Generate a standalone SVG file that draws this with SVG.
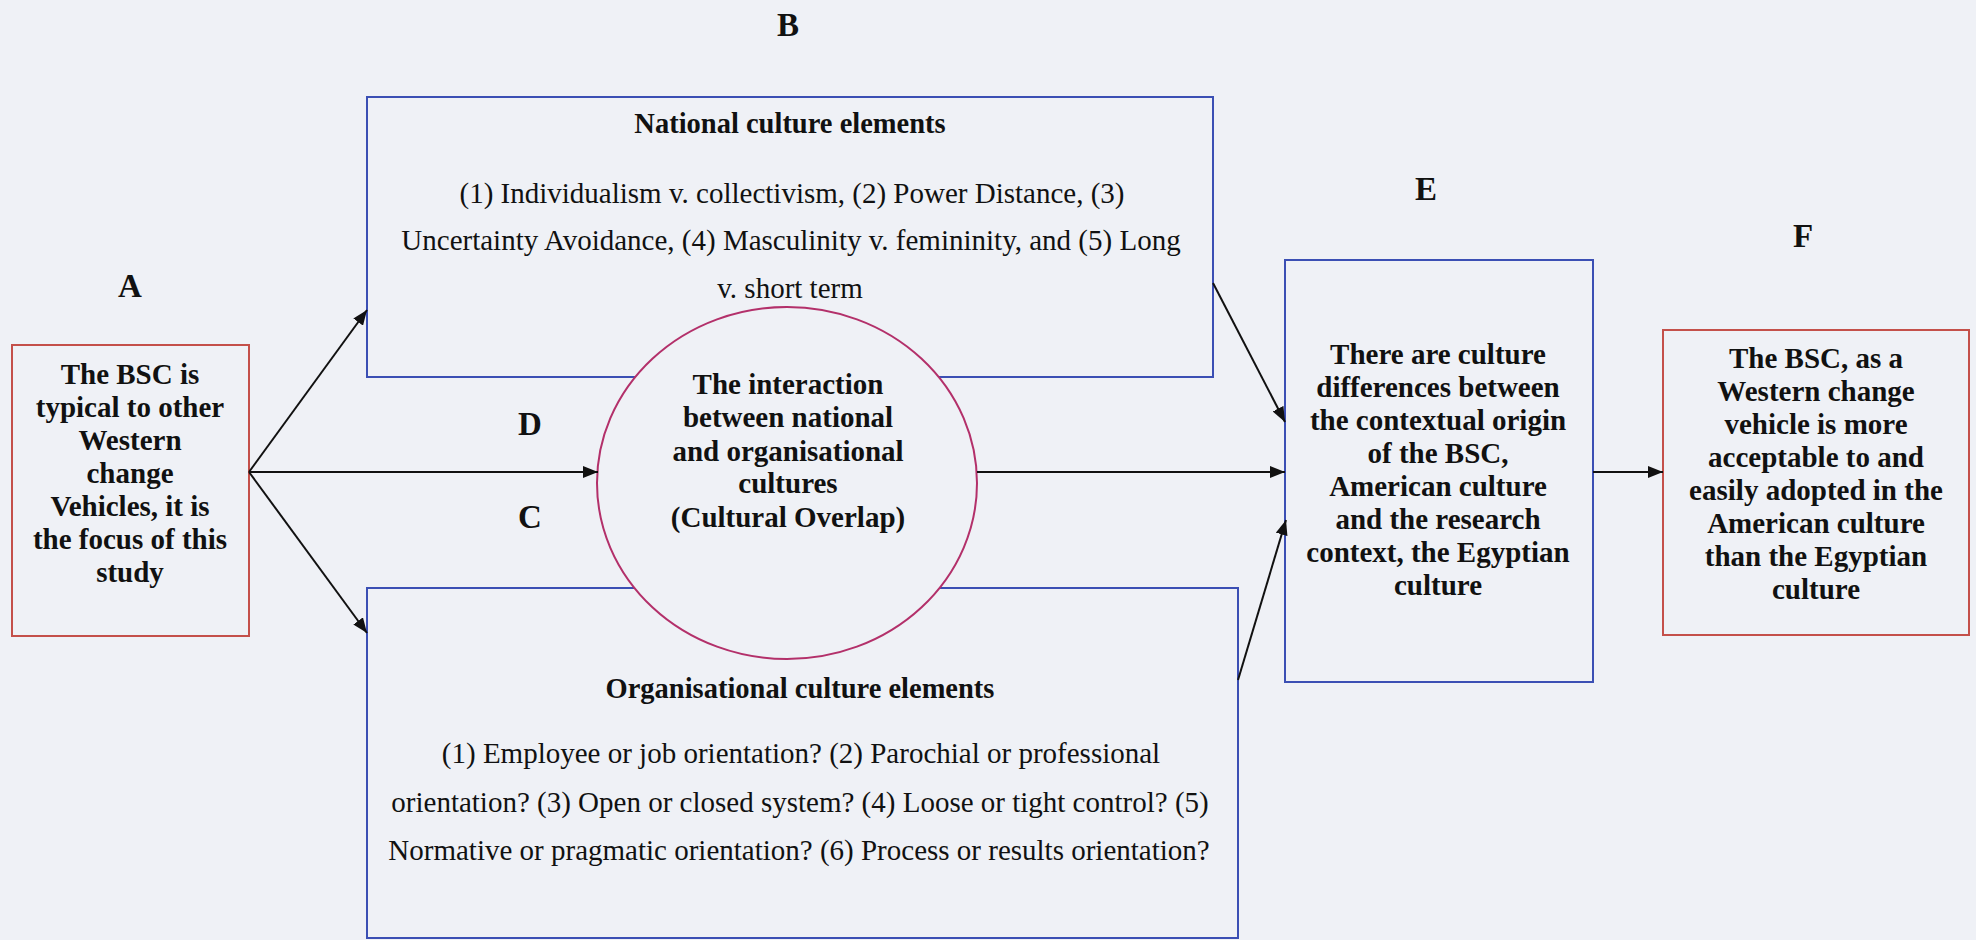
<svg xmlns="http://www.w3.org/2000/svg" width="1976" height="940" viewBox="0 0 1976 940">
  <defs>
    <marker id="arrow" markerUnits="userSpaceOnUse" markerWidth="16" markerHeight="12" refX="15" refY="6" orient="auto">
      <path d="M0,0 L15,6 L0,12 z" fill="#111"/>
    </marker>
    <style>
      .bg { fill: #eff1f6; }
      .blue { fill: #eff1f6; stroke: #3b4fb4; stroke-width: 2; }
      .red { fill: #eff1f6; stroke: #c4504a; stroke-width: 2; }
      .ring { fill: #eff1f6; stroke: #b3306a; stroke-width: 2; }
      .conn { stroke: #111; stroke-width: 2; fill: none; marker-end: url(#arrow); }
      text { font-family: "Liberation Serif", "Times New Roman", serif; fill: #111; text-anchor: middle; }
      .label { font-size: 33px; font-weight: bold; }
      .bold { font-size: 29px; font-weight: bold; }
      .title { font-size: 28.5px; font-weight: bold; }
      .body { font-size: 29px; }
    </style>
  </defs>

  <rect class="bg" x="0" y="0" width="1976" height="940"/>

  <!-- letter markers -->
  <g id="labels">
    <text class="label" x="130" y="297">A</text>
    <text class="label" x="788" y="36">B</text>
    <text class="label" x="530" y="528">C</text>
    <text class="label" x="530" y="435">D</text>
    <text class="label" x="1426" y="200">E</text>
    <text class="label" x="1803" y="247">F</text>
  </g>

  <!-- A: starting point -->
  <g id="node-a">
    <rect class="red" x="12" y="345" width="237" height="291"/>
    <text class="bold" x="130" y="384">The BSC is</text>
    <text class="bold" x="130" y="417">typical to other</text>
    <text class="bold" x="130" y="450">Western</text>
    <text class="bold" x="130" y="483">change</text>
    <text class="bold" x="130" y="516">Vehicles, it is</text>
    <text class="bold" x="130" y="549">the focus of this</text>
    <text class="bold" x="130" y="582">study</text>
  </g>

  <!-- B: national culture -->
  <g id="node-b">
    <rect class="blue" x="367" y="97" width="846" height="280"/>
    <text class="title" x="790" y="133">National culture elements</text>
    <text class="body" x="792" y="203">(1) Individualism v. collectivism, (2) Power Distance, (3)</text>
    <text class="body" x="791" y="250">Uncertainty Avoidance, (4) Masculinity v. femininity, and (5) Long</text>
    <text class="body" x="790" y="298">v. short term</text>
  </g>

  <!-- C: organisational culture -->
  <g id="node-c">
    <rect class="blue" x="367" y="588" width="871" height="350"/>
    <text class="title" x="800" y="698">Organisational culture elements</text>
    <text class="body" x="801" y="763">(1) Employee or job orientation? (2) Parochial or professional</text>
    <text class="body" x="800" y="812">orientation? (3) Open or closed system? (4) Loose or tight control? (5)</text>
    <text class="body" x="799" y="860">Normative or pragmatic orientation? (6) Process or results orientation?</text>
  </g>

  <!-- D: overlap of the two cultures -->
  <g id="node-d">
    <ellipse class="ring" cx="787" cy="483" rx="190" ry="176"/>
    <text class="bold" x="788" y="394">The interaction</text>
    <text class="bold" x="788" y="427">between national</text>
    <text class="bold" x="788" y="461">and organisational</text>
    <text class="bold" x="788" y="493">cultures</text>
    <text class="bold" x="788" y="527">(Cultural Overlap)</text>
  </g>

  <!-- E: cultural differences -->
  <g id="node-e">
    <rect class="blue" x="1285" y="260" width="308" height="422"/>
    <text class="bold" x="1438" y="364">There are culture</text>
    <text class="bold" x="1438" y="397">differences between</text>
    <text class="bold" x="1438" y="430">the contextual origin</text>
    <text class="bold" x="1438" y="463">of the BSC,</text>
    <text class="bold" x="1438" y="496">American culture</text>
    <text class="bold" x="1438" y="529">and the research</text>
    <text class="bold" x="1438" y="562">context, the Egyptian</text>
    <text class="bold" x="1438" y="595">culture</text>
  </g>

  <!-- F: conclusion -->
  <g id="node-f">
    <rect class="red" x="1663" y="330" width="306" height="305"/>
    <text class="bold" x="1816" y="368">The BSC, as a</text>
    <text class="bold" x="1816" y="401">Western change</text>
    <text class="bold" x="1816" y="434">vehicle is more</text>
    <text class="bold" x="1816" y="467">acceptable to and</text>
    <text class="bold" x="1816" y="500">easily adopted in the</text>
    <text class="bold" x="1816" y="533">American culture</text>
    <text class="bold" x="1816" y="566">than the Egyptian</text>
    <text class="bold" x="1816" y="599">culture</text>
  </g>

  <!-- connectors -->
  <g id="connectors">
    <line class="conn" x1="249" y1="472" x2="367" y2="310"/>
    <line class="conn" x1="249" y1="472" x2="598" y2="472"/>
    <line class="conn" x1="249" y1="472" x2="367" y2="633"/>
    <line class="conn" x1="1213" y1="283" x2="1285" y2="422"/>
    <line class="conn" x1="977" y1="472" x2="1285" y2="472"/>
    <line class="conn" x1="1238" y1="680" x2="1286" y2="520"/>
    <line class="conn" x1="1593" y1="472" x2="1663" y2="472"/>
  </g>
</svg>
